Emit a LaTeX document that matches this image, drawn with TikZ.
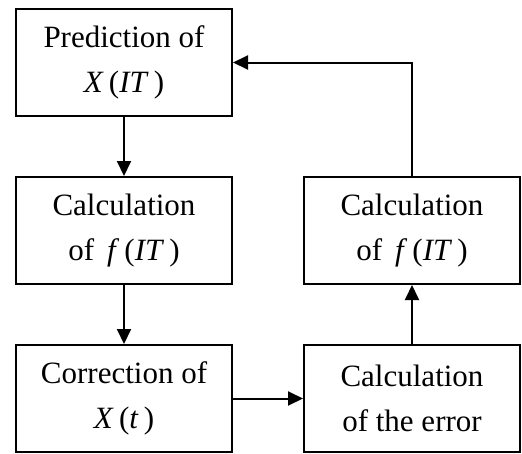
\documentclass[tikz,border=0pt]{standalone}
\usepackage{fontspec}
\setmainfont{Liberation Serif}
\usetikzlibrary{arrows.meta,positioning}

\begin{document}
\begin{tikzpicture}[
  x=1pt, y=1pt,
  >={Triangle[length=15pt,width=14pt]},
  every node/.style={font=\fontsize{31}{45}\selectfont},
  box/.style={draw, line width=2pt, align=center, minimum width=216pt, minimum height=107pt, inner sep=0pt},
  link/.style={->, line width=2pt}
]
\useasboundingbox (0,0) rectangle (522,-453);
\node[box] (pred) at (124,-62.5) {Prediction of\\\textit{X}\,(\textit{IT}\,)};
\node[box] (calcf) at (124,-230.5) {Calculation\\of \,\textit{f}\,(\textit{IT}\,)};
\node[box] (corr) at (124,-398.5) {Correction of\\\textit{X}\,(\textit{t}\,)};
\node[box] (err) at (412,-398.5) {Calculation\\of the error};
\node[box] (calcfb) at (412,-230.5) {Calculation\\of \,\textit{f}\,(\textit{IT}\,)};
\draw[link] (pred) -- (calcf);
\draw[link] (calcf) -- (corr);
\draw[link] (corr) -- (err);
\draw[link] (err) -- (calcfb);
\draw[link] (calcfb.north) |- (pred.east);
\end{tikzpicture}
\end{document}
